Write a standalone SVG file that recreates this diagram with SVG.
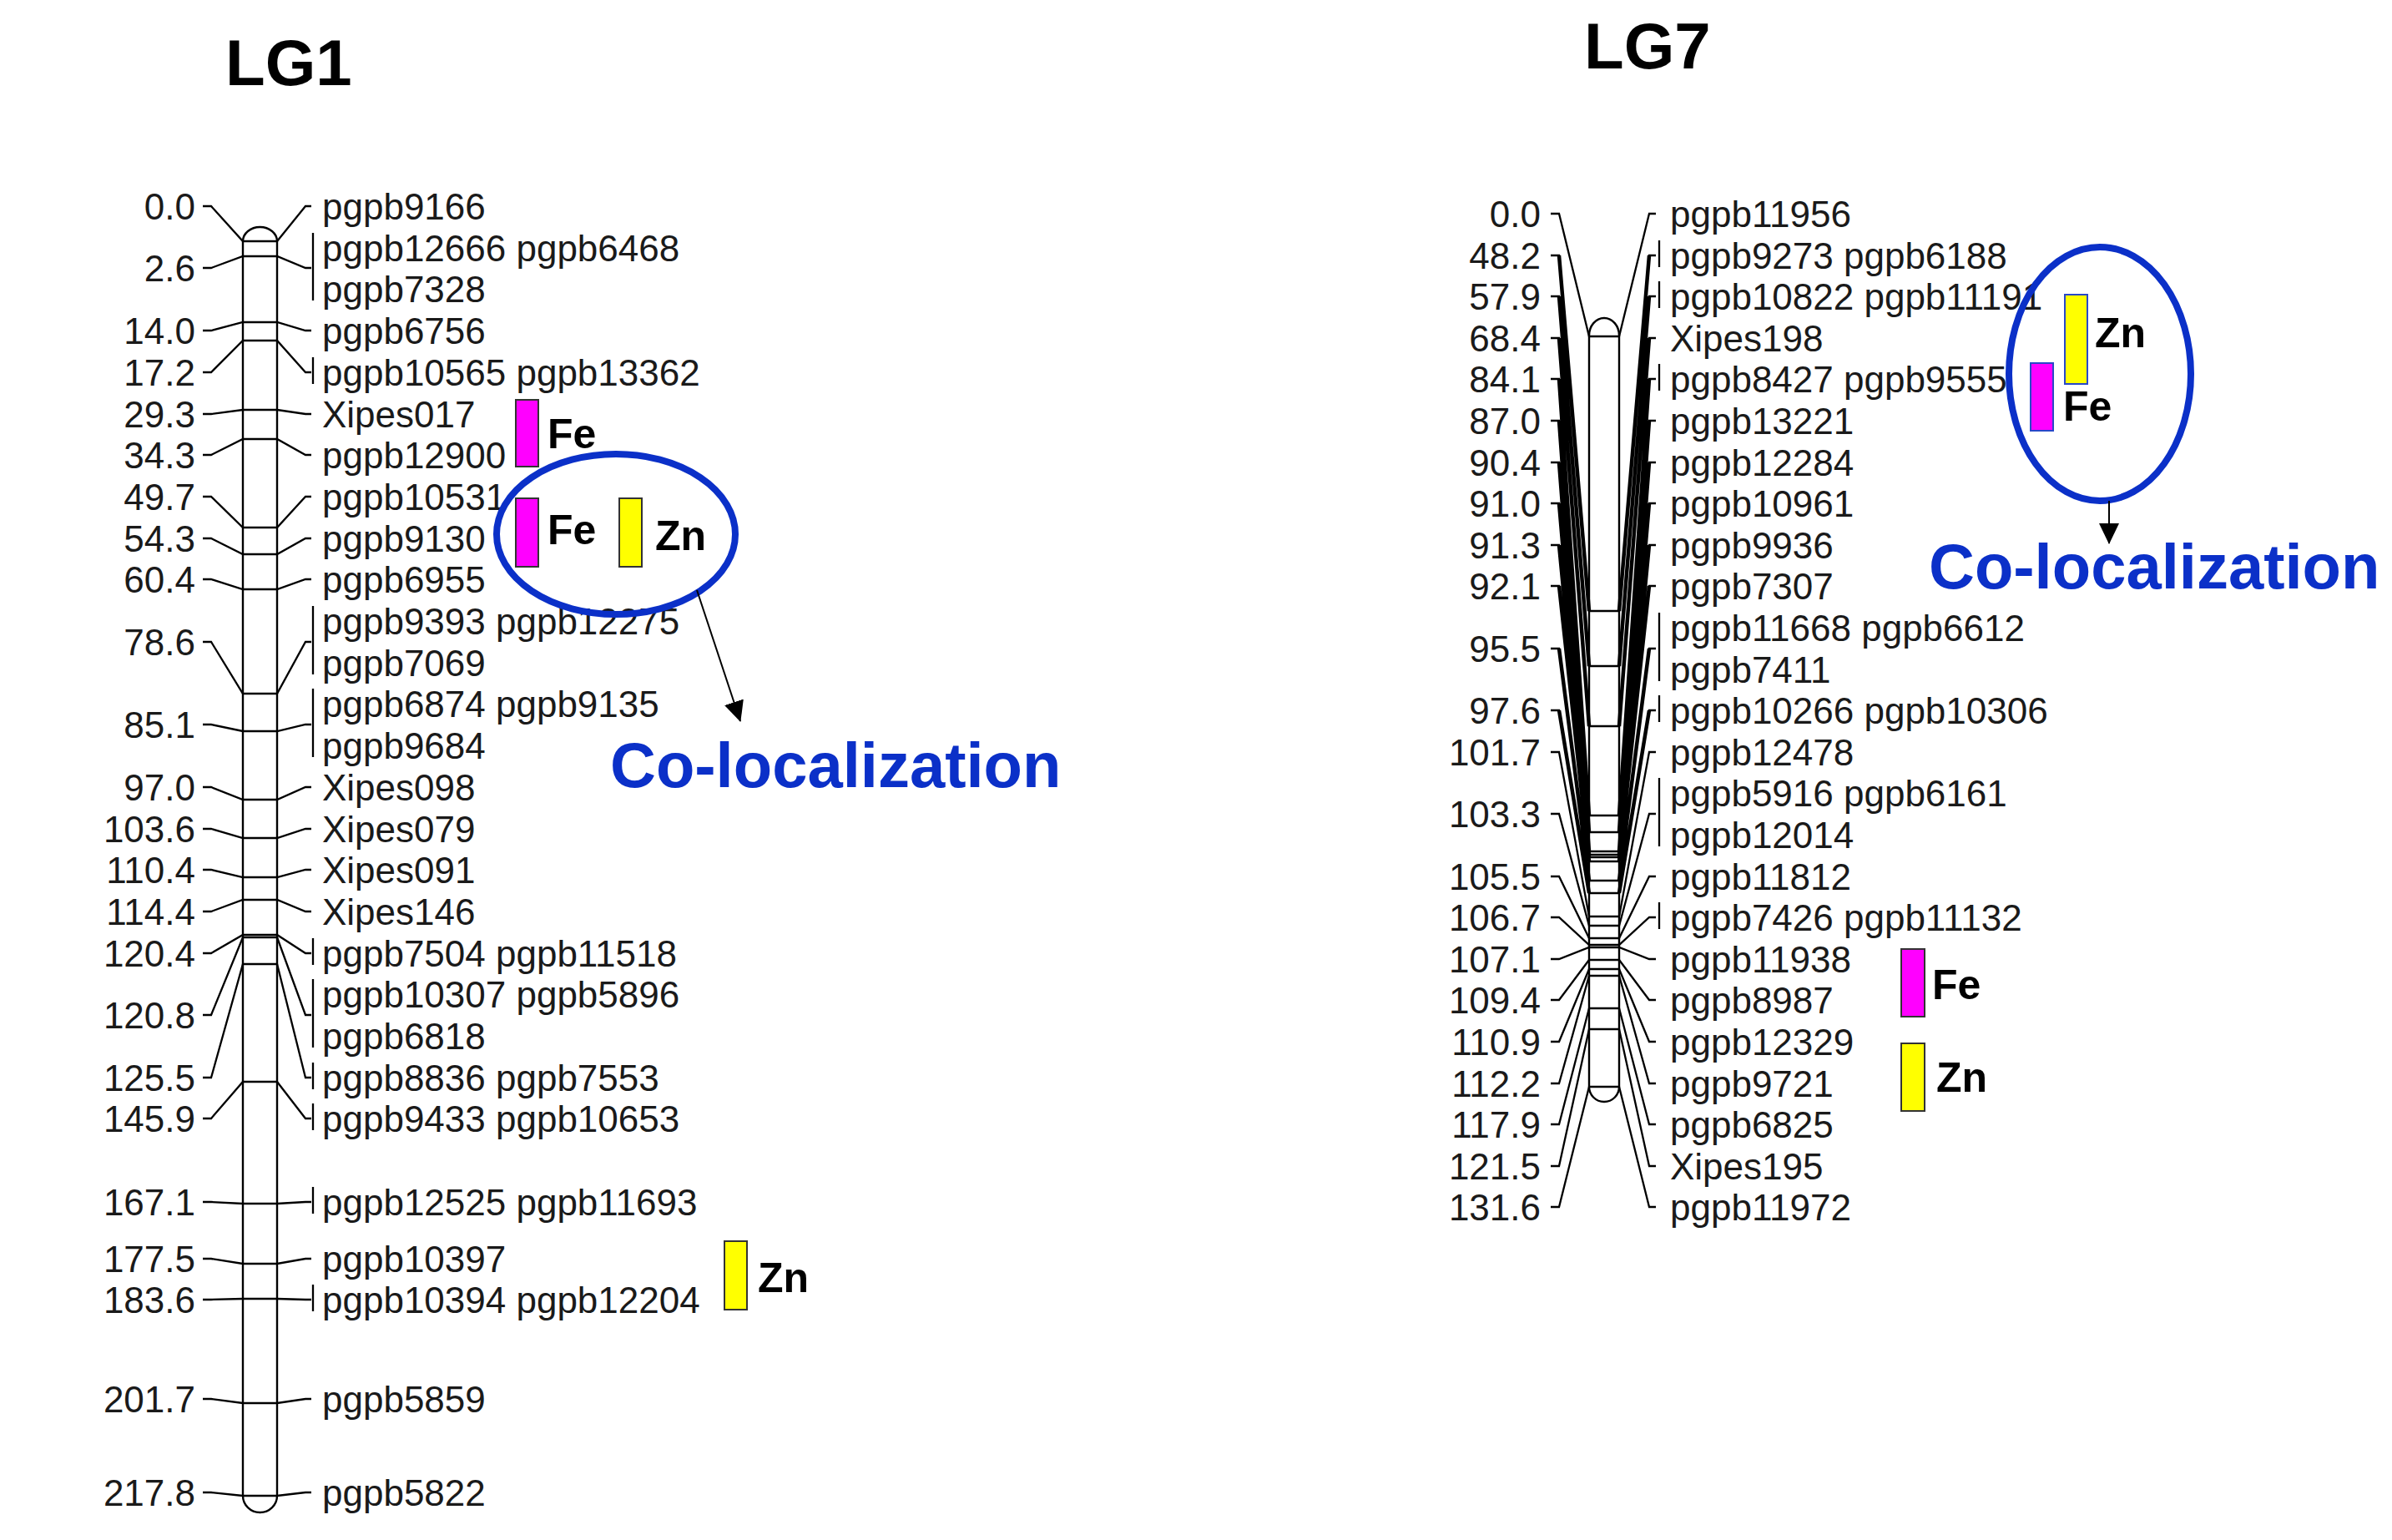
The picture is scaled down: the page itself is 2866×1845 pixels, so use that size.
<svg xmlns="http://www.w3.org/2000/svg" width="2866" height="1845" viewBox="0 0 2866 1845">
<style>
.t{font-family:"Liberation Sans",Arial,sans-serif;font-size:44px;fill:#1a1a1a}
.l{text-anchor:end}
.h{font-family:"Liberation Sans",Arial,sans-serif;font-weight:bold;font-size:78px;fill:#000}
.q{font-family:"Liberation Sans",Arial,sans-serif;font-weight:bold;font-size:50px;fill:#000}
.co{font-family:"Liberation Sans",Arial,sans-serif;font-weight:bold;font-size:76px;fill:#0b30c8}
.c{fill:none;stroke:#000;stroke-width:2.3}
.c7{fill:none;stroke:#000;stroke-width:2.3}
.d7{fill:none;stroke:#000;stroke-width:4.5}
.chr{fill:#fff;stroke:#000;stroke-width:2.4}
.fe{fill:#ff00ff;stroke:#333;stroke-width:2}
.zn{fill:#ffff00;stroke:#333;stroke-width:2}
.feb{fill:#ff00ff;stroke:#2848c8;stroke-width:2}
.znb{fill:#ffff00;stroke:#2848c8;stroke-width:2}
.ell{fill:none;stroke:#0b30c8;stroke-width:8}
.ar{fill:none;stroke:#000;stroke-width:2}
</style>
<defs>
<marker id="ah" markerUnits="userSpaceOnUse" markerWidth="26" markerHeight="26" viewBox="0 0 26 26" refX="24" refY="13" orient="auto">
<path d="M0,1 L25,13 L0,25 Z" fill="#000"/>
</marker>
</defs>

<g id="LG1">
<text class="h" x="270" y="102">LG1</text>
<path class="chr" d="M291,289 A20.5,17 0 0 1 332,289 L332,1792 A20.5,20 0 0 1 291,1792 Z"/>
<g id="LG1-connectors">
<polyline class="c" points="243,247 253,247 291,289 332,289 366,247 373,247"/>
<polyline class="c" points="243,321 253,321 291,307 332,307 366,321 373,321"/>
<polyline class="c" points="243,396 253,396 291,386 332,386 366,396 373,396"/>
<polyline class="c" points="243,446 253,446 291,408 332,408 366,446 373,446"/>
<polyline class="c" points="243,496 253,496 291,491 332,491 366,496 373,496"/>
<polyline class="c" points="243,545 253,545 291,526 332,526 366,545 373,545"/>
<polyline class="c" points="243,595 253,595 291,632 332,632 366,595 373,595"/>
<polyline class="c" points="243,645 253,645 291,664 332,664 366,645 373,645"/>
<polyline class="c" points="243,694 253,694 291,706 332,706 366,694 373,694"/>
<polyline class="c" points="243,769 253,769 291,831 332,831 366,769 373,769"/>
<polyline class="c" points="243,868 253,868 291,876 332,876 366,868 373,868"/>
<polyline class="c" points="243,943 253,943 291,958 332,958 366,943 373,943"/>
<polyline class="c" points="243,993 253,993 291,1004 332,1004 366,993 373,993"/>
<polyline class="c" points="243,1042 253,1042 291,1051 332,1051 366,1042 373,1042"/>
<polyline class="c" points="243,1092 253,1092 291,1078 332,1078 366,1092 373,1092"/>
<polyline class="c" points="243,1142 253,1142 291,1120 332,1120 366,1142 373,1142"/>
<polyline class="c" points="243,1216 253,1216 291,1123 332,1123 366,1216 373,1216"/>
<polyline class="c" points="243,1291 253,1291 291,1155 332,1155 366,1291 373,1291"/>
<polyline class="c" points="243,1340 253,1340 291,1296 332,1296 366,1340 373,1340"/>
<polyline class="c" points="243,1440 253,1440 291,1442 332,1442 366,1440 373,1440"/>
<polyline class="c" points="243,1508 253,1508 291,1514 332,1514 366,1508 373,1508"/>
<polyline class="c" points="243,1557 253,1557 291,1556 332,1556 366,1557 373,1557"/>
<polyline class="c" points="243,1676 253,1676 291,1681 332,1681 366,1676 373,1676"/>
<polyline class="c" points="243,1788 253,1788 291,1792 332,1792 366,1788 373,1788"/>
<path class="c" d="M375,279V360 M375,428V460 M375,726V808 M375,825V907 M375,1124V1156 M375,1173V1255 M375,1273V1305 M375,1322V1354 M375,1422V1454 M375,1539V1571"/>
</g>
<g id="LG1-positions">
<text class="t l" x="234" y="263">0.0</text>
<text class="t l" x="234" y="337">2.6</text>
<text class="t l" x="234" y="412">14.0</text>
<text class="t l" x="234" y="462">17.2</text>
<text class="t l" x="234" y="512">29.3</text>
<text class="t l" x="234" y="561">34.3</text>
<text class="t l" x="234" y="611">49.7</text>
<text class="t l" x="234" y="661">54.3</text>
<text class="t l" x="234" y="710">60.4</text>
<text class="t l" x="234" y="785">78.6</text>
<text class="t l" x="234" y="884">85.1</text>
<text class="t l" x="234" y="959">97.0</text>
<text class="t l" x="234" y="1009">103.6</text>
<text class="t l" x="234" y="1058">110.4</text>
<text class="t l" x="234" y="1108">114.4</text>
<text class="t l" x="234" y="1158">120.4</text>
<text class="t l" x="234" y="1232">120.8</text>
<text class="t l" x="234" y="1307">125.5</text>
<text class="t l" x="234" y="1356">145.9</text>
<text class="t l" x="234" y="1456">167.1</text>
<text class="t l" x="234" y="1524">177.5</text>
<text class="t l" x="234" y="1573">183.6</text>
<text class="t l" x="234" y="1692">201.7</text>
<text class="t l" x="234" y="1804">217.8</text>
</g>
<g id="LG1-markers">
<text class="t" x="386" y="263">pgpb9166</text>
<text class="t" x="386" y="313">pgpb12666 pgpb6468</text>
<text class="t" x="386" y="362">pgpb7328</text>
<text class="t" x="386" y="412">pgpb6756</text>
<text class="t" x="386" y="462">pgpb10565 pgpb13362</text>
<text class="t" x="386" y="512">Xipes017</text>
<text class="t" x="386" y="561">pgpb12900</text>
<text class="t" x="386" y="611">pgpb10531</text>
<text class="t" x="386" y="661">pgpb9130</text>
<text class="t" x="386" y="710">pgpb6955</text>
<text class="t" x="386" y="760">pgpb9393 pgpb12275</text>
<text class="t" x="386" y="810">pgpb7069</text>
<text class="t" x="386" y="859">pgpb6874 pgpb9135</text>
<text class="t" x="386" y="909">pgpb9684</text>
<text class="t" x="386" y="959">Xipes098</text>
<text class="t" x="386" y="1009">Xipes079</text>
<text class="t" x="386" y="1058">Xipes091</text>
<text class="t" x="386" y="1108">Xipes146</text>
<text class="t" x="386" y="1158">pgpb7504 pgpb11518</text>
<text class="t" x="386" y="1207">pgpb10307 pgpb5896</text>
<text class="t" x="386" y="1257">pgpb6818</text>
<text class="t" x="386" y="1307">pgpb8836 pgpb7553</text>
<text class="t" x="386" y="1356">pgpb9433 pgpb10653</text>
<text class="t" x="386" y="1456">pgpb12525 pgpb11693</text>
<text class="t" x="386" y="1524">pgpb10397</text>
<text class="t" x="386" y="1573">pgpb10394 pgpb12204</text>
<text class="t" x="386" y="1692">pgpb5859</text>
<text class="t" x="386" y="1804">pgpb5822</text>
</g>
</g>

<g id="LG1-qtl">
<rect class="fe" x="618" y="479" width="27" height="80"/>
<text class="q" x="656" y="537">Fe</text>
<rect class="fe" x="618" y="597" width="27" height="82"/>
<text class="q" x="656" y="652">Fe</text>
<rect class="zn" x="742" y="597" width="27" height="82"/>
<text class="q" x="785" y="659">Zn</text>
<rect class="zn" x="868" y="1487" width="27" height="82"/>
<text class="q" x="908" y="1548">Zn</text>
</g>
<g id="LG1-coloc">
<ellipse class="ell" cx="738" cy="640" rx="143" ry="96"/>
<line class="ar" x1="835" y1="707" x2="887" y2="864" marker-end="url(#ah)"/>
<text class="co" x="731" y="943">Co-localization</text>
</g>

<g id="LG7">
<text class="h" x="1898" y="82">LG7</text>
<path class="chr" d="M1904,402 A18,21 0 0 1 1940,402 L1940,1302 A18,18 0 0 1 1904,1302 Z"/>
<g id="LG7-connectors">
<path class="d7" d="M1868,306 L1904,732 M1940,732 L1976,306 M1868,355 L1904,798 M1940,798 L1976,355 M1868,405 L1904,870 M1940,870 L1976,405 M1868,454 L1904,977 M1940,977 L1976,454 M1868,504 L1904,997 M1940,997 L1976,504 M1868,554 L1904,1020 M1940,1020 L1976,554 M1868,603 L1904,1024 M1940,1024 L1976,603 M1868,653 L1904,1027 M1940,1027 L1976,653 M1868,702 L1904,1032 M1940,1032 L1976,702 M1868,777 L1904,1055 M1940,1055 L1976,777 M1868,851 L1904,1070 M1940,1070 L1976,851"/>
<polyline class="c7" points="1858,256 1868,256 1904,403 1940,403 1976,256 1984,256"/>
<polyline class="c7" points="1858,306 1868,306 1904,732 1940,732 1976,306 1984,306"/>
<polyline class="c7" points="1858,355 1868,355 1904,798 1940,798 1976,355 1984,355"/>
<polyline class="c7" points="1858,405 1868,405 1904,870 1940,870 1976,405 1984,405"/>
<polyline class="c7" points="1858,454 1868,454 1904,977 1940,977 1976,454 1984,454"/>
<polyline class="c7" points="1858,504 1868,504 1904,997 1940,997 1976,504 1984,504"/>
<polyline class="c7" points="1858,554 1868,554 1904,1020 1940,1020 1976,554 1984,554"/>
<polyline class="c7" points="1858,603 1868,603 1904,1024 1940,1024 1976,603 1984,603"/>
<polyline class="c7" points="1858,653 1868,653 1904,1027 1940,1027 1976,653 1984,653"/>
<polyline class="c7" points="1858,702 1868,702 1904,1032 1940,1032 1976,702 1984,702"/>
<polyline class="c7" points="1858,777 1868,777 1904,1055 1940,1055 1976,777 1984,777"/>
<polyline class="c7" points="1858,851 1868,851 1904,1070 1940,1070 1976,851 1984,851"/>
<polyline class="c7" points="1858,901 1868,901 1904,1098 1940,1098 1976,901 1984,901"/>
<polyline class="c7" points="1858,975 1868,975 1904,1109 1940,1109 1976,975 1984,975"/>
<polyline class="c7" points="1858,1050 1868,1050 1904,1124 1940,1124 1976,1050 1984,1050"/>
<polyline class="c7" points="1858,1099 1868,1099 1904,1132 1940,1132 1976,1099 1984,1099"/>
<polyline class="c7" points="1858,1149 1868,1149 1904,1135 1940,1135 1976,1149 1984,1149"/>
<polyline class="c7" points="1858,1198 1868,1198 1904,1150 1940,1150 1976,1198 1984,1198"/>
<polyline class="c7" points="1858,1248 1868,1248 1904,1161 1940,1161 1976,1248 1984,1248"/>
<polyline class="c7" points="1858,1298 1868,1298 1904,1169 1940,1169 1976,1298 1984,1298"/>
<polyline class="c7" points="1858,1347 1868,1347 1904,1208 1940,1208 1976,1347 1984,1347"/>
<polyline class="c7" points="1858,1397 1868,1397 1904,1233 1940,1233 1976,1397 1984,1397"/>
<polyline class="c7" points="1858,1446 1868,1446 1904,1302 1940,1302 1976,1446 1984,1446"/>
<path class="c" d="M1988,288V320 M1988,337V369 M1988,436V468 M1988,734V816 M1988,833V865 M1988,932V1014 M1988,1081V1113"/>
</g>
<g id="LG7-positions">
<text class="t l" x="1846" y="272">0.0</text>
<text class="t l" x="1846" y="322">48.2</text>
<text class="t l" x="1846" y="371">57.9</text>
<text class="t l" x="1846" y="421">68.4</text>
<text class="t l" x="1846" y="470">84.1</text>
<text class="t l" x="1846" y="520">87.0</text>
<text class="t l" x="1846" y="570">90.4</text>
<text class="t l" x="1846" y="619">91.0</text>
<text class="t l" x="1846" y="669">91.3</text>
<text class="t l" x="1846" y="718">92.1</text>
<text class="t l" x="1846" y="793">95.5</text>
<text class="t l" x="1846" y="867">97.6</text>
<text class="t l" x="1846" y="917">101.7</text>
<text class="t l" x="1846" y="991">103.3</text>
<text class="t l" x="1846" y="1066">105.5</text>
<text class="t l" x="1846" y="1115">106.7</text>
<text class="t l" x="1846" y="1165">107.1</text>
<text class="t l" x="1846" y="1214">109.4</text>
<text class="t l" x="1846" y="1264">110.9</text>
<text class="t l" x="1846" y="1314">112.2</text>
<text class="t l" x="1846" y="1363">117.9</text>
<text class="t l" x="1846" y="1413">121.5</text>
<text class="t l" x="1846" y="1462">131.6</text>
</g>
<g id="LG7-markers">
<text class="t" x="2001" y="272">pgpb11956</text>
<text class="t" x="2001" y="322">pgpb9273 pgpb6188</text>
<text class="t" x="2001" y="371">pgpb10822 pgpb11191</text>
<text class="t" x="2001" y="421">Xipes198</text>
<text class="t" x="2001" y="470">pgpb8427 pgpb9555</text>
<text class="t" x="2001" y="520">pgpb13221</text>
<text class="t" x="2001" y="570">pgpb12284</text>
<text class="t" x="2001" y="619">pgpb10961</text>
<text class="t" x="2001" y="669">pgpb9936</text>
<text class="t" x="2001" y="718">pgpb7307</text>
<text class="t" x="2001" y="768">pgpb11668 pgpb6612</text>
<text class="t" x="2001" y="818">pgpb7411</text>
<text class="t" x="2001" y="867">pgpb10266 pgpb10306</text>
<text class="t" x="2001" y="917">pgpb12478</text>
<text class="t" x="2001" y="966">pgpb5916 pgpb6161</text>
<text class="t" x="2001" y="1016">pgpb12014</text>
<text class="t" x="2001" y="1066">pgpb11812</text>
<text class="t" x="2001" y="1115">pgpb7426 pgpb11132</text>
<text class="t" x="2001" y="1165">pgpb11938</text>
<text class="t" x="2001" y="1214">pgpb8987</text>
<text class="t" x="2001" y="1264">pgpb12329</text>
<text class="t" x="2001" y="1314">pgpb9721</text>
<text class="t" x="2001" y="1363">pgpb6825</text>
<text class="t" x="2001" y="1413">Xipes195</text>
<text class="t" x="2001" y="1462">pgpb11972</text>
</g>
</g>

<g id="LG7-qtl">
<rect class="fe" x="2278" y="1137" width="28" height="81"/>
<text class="q" x="2315" y="1197">Fe</text>
<rect class="zn" x="2278" y="1250" width="28" height="81"/>
<text class="q" x="2320" y="1308">Zn</text>
</g>
<g id="LG7-coloc">
<ellipse class="ell" cx="2516" cy="448" rx="109" ry="152"/>
<rect class="znb" x="2474" y="353" width="27" height="107"/>
<text class="q" x="2510" y="416">Zn</text>
<rect class="feb" x="2433" y="435" width="27" height="81"/>
<text class="q" x="2472" y="504">Fe</text>
<line class="ar" x1="2527" y1="600" x2="2527" y2="651" marker-end="url(#ah)"/>
<text class="co" x="2311" y="705">Co-localization</text>
</g>
</svg>
